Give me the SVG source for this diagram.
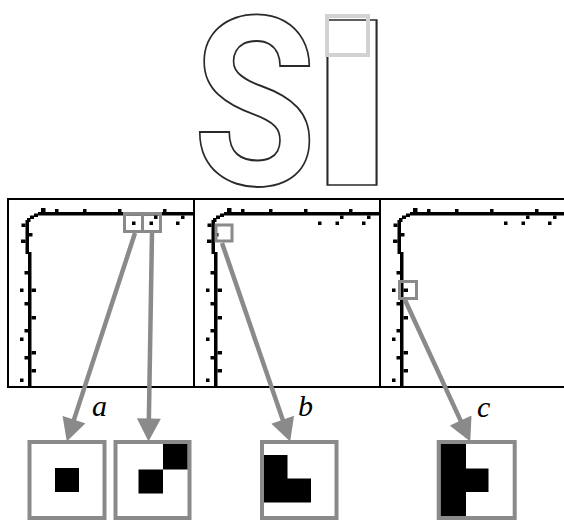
<svg xmlns="http://www.w3.org/2000/svg" xmlns:xlink="http://www.w3.org/1999/xlink" width="564" height="520" viewBox="0 0 564 520">
<style>
.frame{fill:none;stroke:#000;stroke-width:2}
.hl{fill:none;stroke:#8a8a8a;stroke-width:3}
.zoom{fill:#fff;stroke:#8a8a8a;stroke-width:4}
.conn{stroke:#8a8a8a;stroke-width:4.5;fill:none;marker-end:url(#head)}
.lbl{font-family:"Liberation Serif","Times New Roman",serif;font-style:italic;font-size:30px;fill:#000}
</style>
<defs>
<marker id="head" markerUnits="userSpaceOnUse" markerWidth="24" markerHeight="24" viewBox="0 0 22 23" refX="10" refY="11.5" orient="auto">
<path d="M0,0 L22,11.5 L0,23 Z" fill="#8a8a8a"/>
</marker>
<g id="pix" fill="#000">
<rect x="30" y="13" width="156" height="3.5"/>
<rect x="33" y="9" width="4.5" height="4.5"/>
<rect x="47" y="10" width="3.5" height="3.5"/>
<rect x="75" y="10" width="3.5" height="3.5"/>
<rect x="110" y="10" width="3.5" height="3.5"/>
<rect x="155" y="10" width="3.5" height="3.5"/>
<rect x="146" y="16.5" width="3.5" height="3.5"/>
<rect x="173" y="16.5" width="3.5" height="3.5"/>
<rect x="124" y="22.5" width="3.5" height="3.5"/>
<rect x="141.5" y="22.5" width="3.5" height="3.5"/>
<rect x="168" y="22.5" width="3.5" height="3.5"/>
<rect x="26" y="14.5" width="4" height="3.5"/>
<rect x="22" y="16.5" width="4" height="3.5"/>
<rect x="19" y="19" width="3.5" height="4"/>
<rect x="17.5" y="21" width="3.5" height="22"/>
<rect x="13.5" y="24.5" width="4" height="3.5"/>
<rect x="21" y="34" width="3.5" height="3.5"/>
<rect x="13" y="40.5" width="4.5" height="3.5"/>
<rect x="17.5" y="42" width="3.5" height="13"/>
<rect x="20" y="53" width="3.5" height="135"/>
<rect x="16.5" y="72" width="3.5" height="3.5"/>
<rect x="12" y="89.5" width="3.5" height="3.5"/>
<rect x="23.5" y="89.5" width="4.5" height="3.5"/>
<rect x="16.5" y="103" width="3.5" height="3.5"/>
<rect x="23.5" y="117" width="4.5" height="3.5"/>
<rect x="16.5" y="130" width="3.5" height="3.5"/>
<rect x="12" y="138.5" width="3.5" height="3.5"/>
<rect x="23.5" y="152" width="4.5" height="3.5"/>
<rect x="16.5" y="157" width="3.5" height="3.5"/>
<rect x="23.5" y="170" width="4.5" height="3.5"/>
<rect x="12" y="179.5" width="3.5" height="3.5"/>
</g>
</defs>
<rect width="564" height="520" fill="#fff"/>

<g id="title-SI">
<text transform="translate(198,185) scale(0.85,1)" x="-6" y="0" font-family="Roboto, 'Liberation Sans', sans-serif" font-weight="bold" font-style="normal" font-size="236" fill="none" stroke="#2a2a2a" stroke-width="1.8" vector-effect="non-scaling-stroke">S</text>
<text transform="translate(352,185) scale(1.45,1)" text-anchor="middle" x="0" y="0" font-family="Roboto, 'Liberation Sans', sans-serif" font-weight="bold" font-style="normal" font-size="232" fill="none" stroke="#2a2a2a" stroke-width="1.8" vector-effect="non-scaling-stroke">I</text>
<rect x="327" y="16" width="41" height="39" fill="none" stroke="#d2d2d2" stroke-width="4"/>
</g>

<g id="panels">
<rect class="frame" x="8" y="199" width="570" height="188"/>
<line x1="194" y1="199" x2="194" y2="387" stroke="#000" stroke-width="2"/>
<line x1="380" y1="199" x2="380" y2="387" stroke="#000" stroke-width="2"/>
</g>
<g id="panel-1">
<use xlink:href="#pix" transform="translate(8,199)"/>
<rect class="hl" x="124.5" y="213.5" width="18" height="18"/>
<rect class="hl" x="142.5" y="213.5" width="18" height="18"/>
</g>
<g id="panel-2">
<use xlink:href="#pix" transform="translate(194,199)"/>
<rect class="hl" x="216" y="225" width="16" height="16"/>
</g>
<g id="panel-3">
<use xlink:href="#pix" transform="translate(380,199)"/>
<rect class="hl" x="399.5" y="281.5" width="17" height="17"/>
</g>

<g id="connectors">
<line class="conn" x1="135" y1="233" x2="70.7" y2="429.6"/>
<line class="conn" x1="152" y1="233" x2="148.7" y2="429"/>
<line class="conn" x1="222" y1="243" x2="286.1" y2="429.6"/>
<line class="conn" x1="405" y1="300" x2="465" y2="430.1"/>
</g>

<g id="label-a"><text class="lbl" x="92" y="416">a</text></g>
<g id="label-b"><text class="lbl" x="298" y="416">b</text></g>
<g id="label-c"><text class="lbl" x="477" y="417">c</text></g>

<g id="zoom-a1">
<rect class="zoom" x="29.5" y="442" width="75" height="76"/>
<rect x="55" y="468" width="24" height="24" fill="#000"/>
</g>
<g id="zoom-a2">
<rect class="zoom" x="115.5" y="442" width="74" height="76"/>
<rect x="138.5" y="469.5" width="24.5" height="24" fill="#000"/>
<rect x="163" y="444" width="24.5" height="25.5" fill="#000"/>
</g>
<g id="zoom-b">
<rect class="zoom" x="262" y="442" width="74.5" height="76"/>
<path d="M264,455 H287.5 V478.5 H311 V502.5 H264 Z" fill="#000"/>
</g>
<g id="zoom-c">
<rect class="zoom" x="438.7" y="442" width="76" height="76"/>
<rect x="440.7" y="444" width="25.3" height="72" fill="#000"/>
<rect x="466" y="468.5" width="22.5" height="23.5" fill="#000"/>
</g>
</svg>
